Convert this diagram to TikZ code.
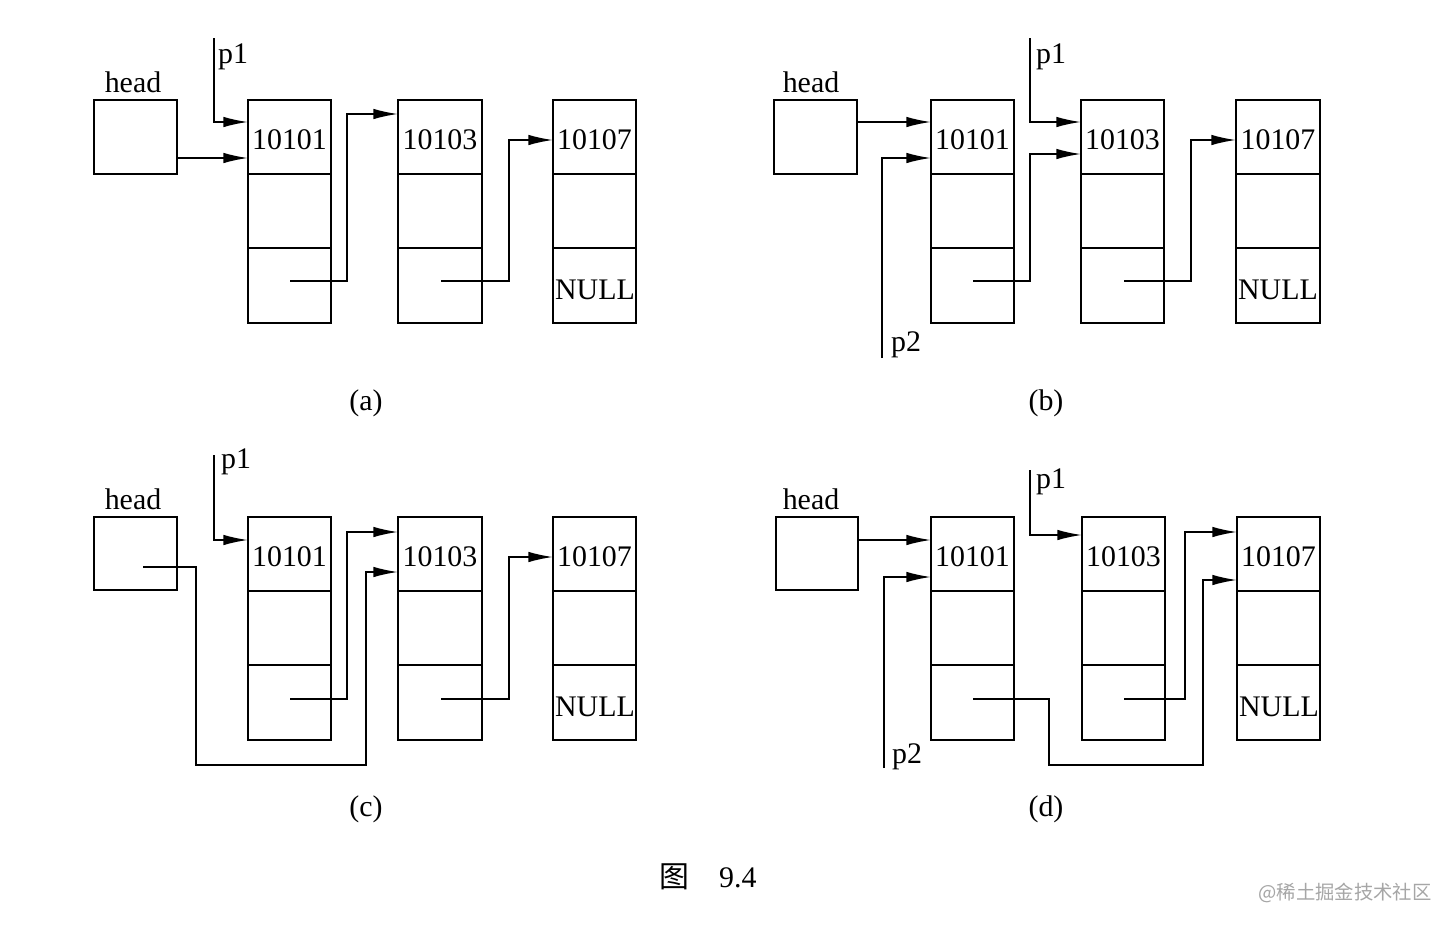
\documentclass[tikz,border=0pt]{standalone}
\usepackage{fontspec}
\setmainfont{Liberation Serif}
\newfontfamily\cjk{Noto Sans CJK SC}
\usetikzlibrary{arrows.meta}
\begin{document}
\begin{tikzpicture}[x=0.01cm,y=-0.01cm,
  ln/.style={line width=0.5pt},
  ar/.style={ln,-{Latex[length=7pt,width=3pt]}},
  box/.style={draw,line width=0.5pt},
  lbl/.style={font=\fontsize{8.5}{10}\selectfont,inner sep=0pt}]
\useasboundingbox (0,0) rectangle (1450,930);
\fill[white] (0,0) rectangle (1450,930);
% node macro-like drawing
\newcommand{\cell}[5]{% name, x1, x2, y1, text
  \draw[box] (#2,#4) rectangle (#3,#4+223);
  \draw[ln] (#2,#4+74) -- (#3,#4+74);
  \draw[ln] (#2,#4+148) -- (#3,#4+148);
  \node[lbl] (#1) at ({(#2+#3)/2},#4+40) {#5};
}
% ---------- (a)
\draw[box] (94,100) rectangle (177,174);
\node[lbl] (ha) at (133,82) {head};
\cell{a1}{248}{331}{100}{10101}
\cell{a2}{398}{482}{100}{10103}
\cell{a3}{553}{636}{100}{10107}
\node[lbl] (an) at (595,290) {NULL};
\node[lbl] (ap1) at (233,57) {p1};
\coordinate (ap1s) at (214,38);
\draw[ar] (ap1s) |- (248,122);
\draw[ar] (177,158) -- (248,158);
\draw[ar] (290,281) -- (347,281) |- (398,114);
\draw[ar] (441,281) -- (509,281) |- (553,140);
\node[lbl] (ca) at (366,403) {(a)};
% ---------- (b)
\draw[box] (774,100) rectangle (857,174);
\node[lbl] (hb) at (811,82) {head};
\cell{b1}{931}{1014}{100}{10101}
\cell{b2}{1081}{1164}{100}{10103}
\cell{b3}{1236}{1320}{100}{10107}
\node[lbl] (bn) at (1278,290) {NULL};
\node[lbl] (bp1) at (1051,57) {p1};
\node[lbl] (bp2) at (906,345) {p2};
\draw[ar] (857,122) -- (931,122);
\draw[ar] (882,358) |- (931,158);
\draw[ar] (1030,38) |- (1081,122);
\draw[ar] (973,281) -- (1030,281) |- (1081,154);
\draw[ar] (1124,281) -- (1191,281) |- (1236,140);
\node[lbl] (cb) at (1046,403) {(b)};
% ---------- (c)
\draw[box] (94,517) rectangle (177,590);
\node[lbl] (hc) at (133,499) {head};
\cell{c1}{248}{331}{517}{10101}
\cell{c2}{398}{482}{517}{10103}
\cell{c3}{553}{636}{517}{10107}
\node[lbl] (cn) at (595,707) {NULL};
\node[lbl] (cp1) at (236,462) {p1};
\draw[ar] (214,455) |- (248,540);
\draw[ar] (290,699) -- (347,699) |- (398,532);
\draw[ar] (143,567) -- (196,567) -- (196,765) -- (366,765) |- (398,572);
\draw[ar] (441,699) -- (509,699) |- (553,557);
\node[lbl] (cc) at (366,809) {(c)};
% ---------- (d)
\draw[box] (776,517) rectangle (858,590);
\node[lbl] (hd) at (811,499) {head};
\cell{d1}{931}{1014}{517}{10101}
\cell{d2}{1082}{1165}{517}{10103}
\cell{d3}{1237}{1320}{517}{10107}
\node[lbl] (dn) at (1279,707) {NULL};
\node[lbl] (dp1) at (1051,482) {p1};
\node[lbl] (dp2) at (907,757) {p2};
\draw[ar] (858,540) -- (931,540);
\draw[ar] (884,768) |- (931,577);
\draw[ar] (1030,470) |- (1082,535);
\draw[ar] (973,699) -- (1049,699) -- (1049,765) -- (1203,765) |- (1237,580);
\draw[ar] (1124,699) -- (1185,699) |- (1237,532);
\node[lbl] (cd) at (1046,809) {(d)};
% captions
\node[inner sep=0pt,font=\fontsize{8.5}{10}\selectfont] (fig) at (708,877) {{\cjk 图}\quad 9.4};
\node[inner sep=0pt,text=gray!70,font=\cjk\fontsize{5.5}{7}\selectfont] (wm) at (1345,893) {@稀土掘金技术社区};
\end{tikzpicture}
\end{document}
